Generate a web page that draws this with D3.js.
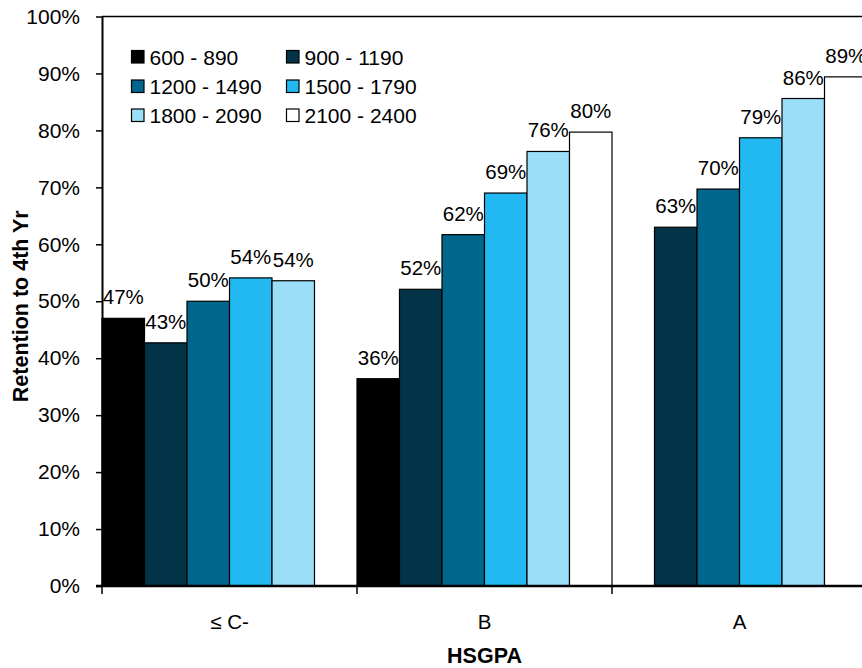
<!DOCTYPE html>
<html>
<head>
<meta charset="utf-8">
<script src="https://cdn.jsdelivr.net/npm/d3@7"></script>
<style>
  html, body { margin: 0; padding: 0; background: #fff; }
  svg { display: block; font-family: "Liberation Sans", Arial, sans-serif; }
</style>
</head>
<body>
<svg id="chart" width="862" height="668"></svg>
<script>
// ---- data ----
const categories = ["≤ C-", "B", "A"];
const seriesNames = ["600 - 890", "900 - 1190", "1200 - 1490", "1500 - 1790", "1800 - 2090", "2100 - 2400"];
const seriesColors = ["#000000", "#023347", "#00668C", "#22B9F2", "#9BDEF7", "#FFFFFF"];
const s600_890   = [0.470, 0.364, null];
const s900_1190  = [0.427, 0.521, 0.630];
const s1200_1490 = [0.500, 0.617, 0.697];
const s1500_1790 = [0.541, 0.690, 0.787];
const s1800_2090 = [0.536, 0.763, 0.856];
const s2100_2400 = [null, 0.797, 0.894];
const seriesValues = [s600_890, s900_1190, s1200_1490, s1500_1790, s1800_2090, s2100_2400];
const yTicks = [0, 0.1, 0.2, 0.3, 0.4, 0.5, 0.6, 0.7, 0.8, 0.9, 1.0];
const yTitle = "Retention to 4th Yr";
const xTitle = "HSGPA";

// ---- layout ----
const svg = d3.select("#chart");
const plotL = 102, plotR = 867, plotT = 16.5, plotB = 586;
const fmt = d3.format(".0%");

const x = d3.scaleBand().domain(categories).range([plotL, plotR]).padding(0);
const xs = d3.scaleBand().domain(seriesNames).range([0, x.bandwidth()]).padding(0);
const y = d3.scaleLinear().domain([0, 1]).range([plotB, plotT]);

// bars
const rows = [];
seriesNames.forEach((s, i) => {
  categories.forEach((c, j) => {
    const v = seriesValues[i][j];
    if (v !== null) rows.push({ s, c, v, color: seriesColors[i] });
  });
});

const g = svg.append("g");
g.selectAll("rect.bar").data(rows).enter().append("rect")
  .attr("class", "bar")
  .attr("x", d => x(d.c) + xs(d.s))
  .attr("y", d => y(d.v))
  .attr("width", xs.bandwidth())
  .attr("height", d => y(0) - y(d.v))
  .attr("fill", d => d.color)
  .attr("stroke", "#000")
  .attr("stroke-width", 1.2);

// value labels
g.selectAll("text.lbl").data(rows).enter().append("text")
  .attr("class", "lbl")
  .attr("x", d => x(d.c) + xs(d.s) + xs.bandwidth() / 2)
  .attr("y", d => y(d.v) - 14)
  .attr("text-anchor", "middle")
  .attr("font-size", 20.5)
  .attr("fill", "#000")
  .text(d => fmt(d.v));

// top frame line
svg.append("line")
  .attr("x1", plotL).attr("x2", plotR)
  .attr("y1", plotT).attr("y2", plotT)
  .attr("stroke", "#000").attr("stroke-width", 1.6);

// y axis
const yAxis = d3.axisLeft(y).tickValues(yTicks).tickFormat(fmt).tickSize(6).tickSizeOuter(0).tickPadding(16);
const ya = svg.append("g").attr("transform", `translate(${plotL},0)`).call(yAxis);
ya.select(".domain").attr("stroke", "#000").attr("stroke-width", 2);
ya.selectAll(".tick line").attr("stroke", "#000").attr("stroke-width", 1.5);
ya.selectAll(".tick text").attr("font-size", 21).attr("font-family", "Liberation Sans, Arial, sans-serif").attr("fill", "#000");

// x axis
const xa = svg.append("g").attr("transform", `translate(0,${plotB})`);
xa.append("line").attr("x1", plotL - 6).attr("x2", plotR).attr("y1", 0).attr("y2", 0)
  .attr("stroke", "#000").attr("stroke-width", 2.4);
const bounds = categories.map(c => x(c)).concat([x(categories[categories.length - 1]) + x.bandwidth()]);
xa.selectAll("line.xt").data(bounds).enter().append("line")
  .attr("class", "xt")
  .attr("x1", d => d).attr("x2", d => d)
  .attr("y1", 0).attr("y2", 8)
  .attr("stroke", "#000").attr("stroke-width", 1.5);
xa.selectAll("text.xl").data(categories).enter().append("text")
  .attr("class", "xl")
  .attr("x", d => x(d) + x.bandwidth() / 2)
  .attr("y", 43)
  .attr("text-anchor", "middle")
  .attr("font-size", 20.5)
  .attr("fill", "#000")
  .text(d => d);

// axis titles
svg.append("text")
  .attr("transform", `translate(28,${(plotT + plotB) / 2 + 5}) rotate(-90)`)
  .attr("text-anchor", "middle")
  .attr("font-size", 21.5)
  .attr("font-weight", "bold")
  .attr("fill", "#000")
  .text(yTitle);

svg.append("text")
  .attr("x", x("B") + x.bandwidth() / 2)
  .attr("y", 663)
  .attr("text-anchor", "middle")
  .attr("font-size", 21.5)
  .attr("font-weight", "bold")
  .attr("fill", "#000")
  .text(xTitle);

// legend
const legend = svg.append("g");
const colX = [131.5, 286.5], rowY = [57, 86.5, 115.5];
seriesNames.forEach((s, i) => {
  const cx = colX[i % 2], cy = rowY[Math.floor(i / 2)];
  legend.append("rect")
    .attr("x", cx).attr("y", cy - 6.5)
    .attr("width", 12.5).attr("height", 12.5)
    .attr("fill", seriesColors[i])
    .attr("stroke", "#000").attr("stroke-width", 1.2);
  legend.append("text")
    .attr("x", cx + 18).attr("y", cy + 7.5)
    .attr("font-size", 21)
    .attr("fill", "#000")
    .attr("xml:space", "preserve")
    .text(s);
});
</script>
</body>
</html>
